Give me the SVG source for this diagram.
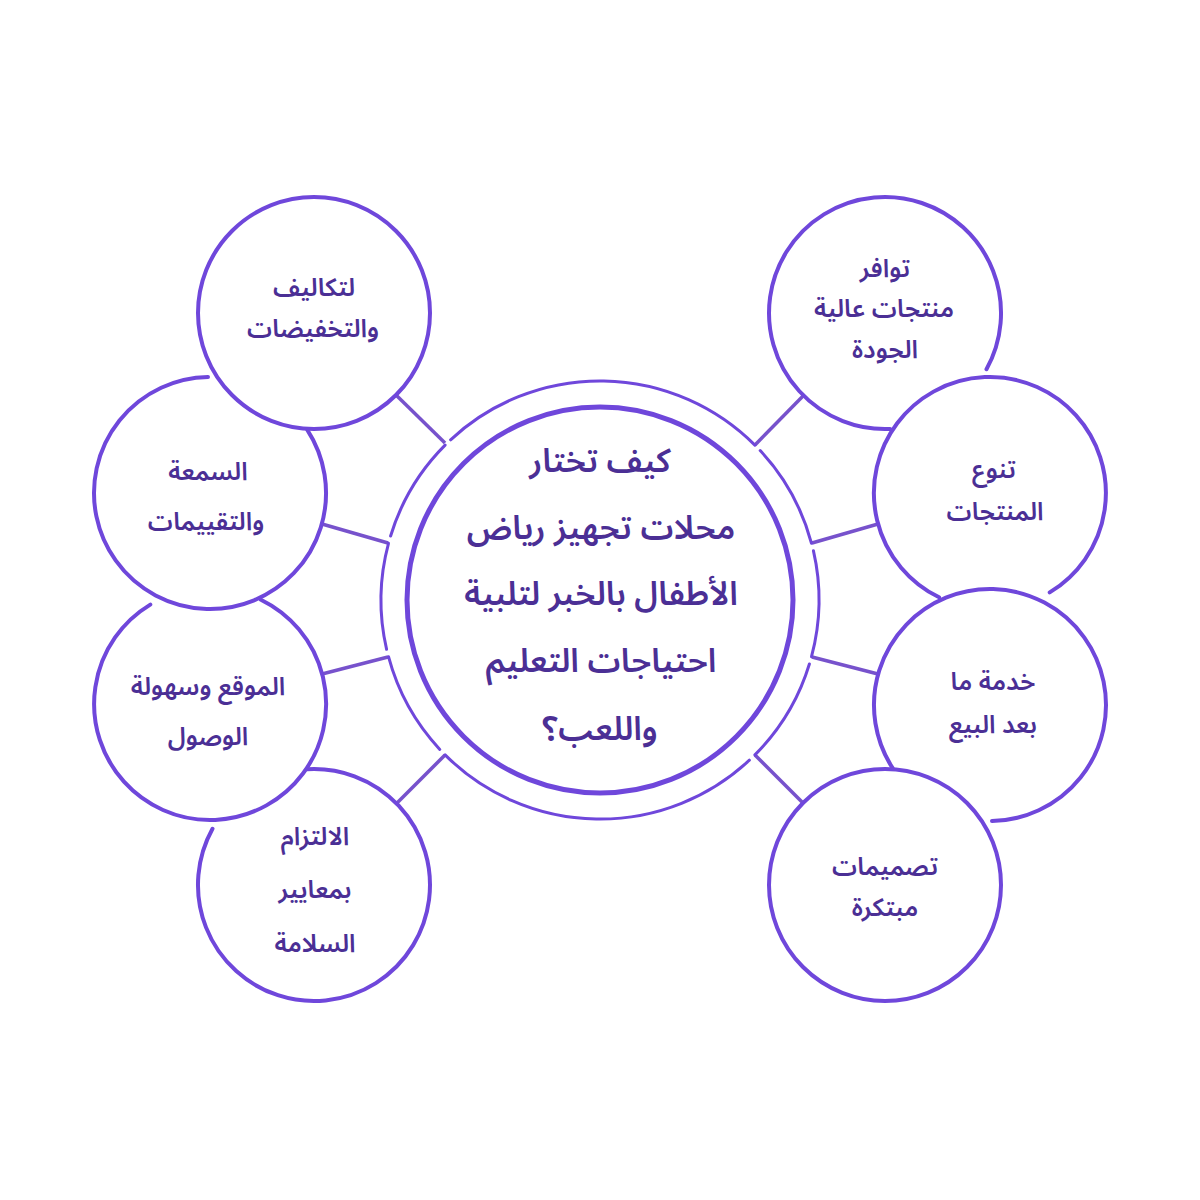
<svg xmlns="http://www.w3.org/2000/svg" width="1200" height="1200" viewBox="0 0 1200 1200">
<style>
.ring{fill:none;stroke:#6f47db;stroke-width:3;stroke-linecap:round}
.inner{fill:#fff;stroke:#6f47db;stroke-width:5}
.sat{fill:none;stroke:#6f47db;stroke-width:4;stroke-linecap:round}
.bg{fill:#fff;stroke:none}
.con{stroke:#7752cc;stroke-width:3.5;fill:none}
.t{font-family:"Noto Sans Arabic","DejaVu Sans",sans-serif;font-weight:600;fill:#4b2f95;text-anchor:middle}
.s{font-size:25px}
.c{font-size:33px}
</style>
<rect width="1200" height="1200" fill="#fff"/>
<g id="connectors">
<line class="con" x1="396" y1="395" x2="445" y2="443"/>
<line class="con" x1="322" y1="524" x2="388" y2="543"/>
<line class="con" x1="322" y1="674" x2="388" y2="657"/>
<line class="con" x1="397" y1="803" x2="445" y2="755"/>
<line class="con" x1="804" y1="395" x2="755" y2="445"/>
<line class="con" x1="878" y1="524" x2="812" y2="543"/>
<line class="con" x1="878" y1="674" x2="812" y2="657"/>
<line class="con" x1="803" y1="803" x2="755" y2="755"/>
</g>
<g id="center">
<path class="ring" d="M809.4,664 A219,219 0 0 1 754.9,754.9"/>
<path class="ring" d="M749.4,760.2 A219,219 0 0 1 445.1,754.9"/>
<path class="ring" d="M439.8,749.4 A219,219 0 0 1 388.5,656.7"/>
<path class="ring" d="M386.6,649.3 A219,219 0 0 1 388.5,543.3"/>
<path class="ring" d="M390.6,536 A219,219 0 0 1 445.1,445.1"/>
<path class="ring" d="M450.6,439.8 A219,219 0 0 1 754.9,445.1"/>
<path class="ring" d="M760.2,450.6 A219,219 0 0 1 811.5,543.3"/>
<path class="ring" d="M813.4,550.7 A219,219 0 0 1 811.5,656.7"/>
<circle class="inner" cx="600" cy="600" r="193"/>
<text class="t c" direction="rtl" x="600" y="472">كيف تختار</text>
<text class="t c" direction="rtl" x="601" y="539">محلات تجهيز رياض</text>
<text class="t c" direction="rtl" x="601" y="605">الأطفال بالخبر لتلبية</text>
<text class="t c" direction="rtl" x="601" y="672">احتياجات التعليم</text>
<text class="t c" direction="rtl" x="600" y="740">واللعب؟</text>
</g>
<g id="node-bl">
<circle class="bg" cx="314" cy="885" r="116"/>
<path class="sat" d="M306.9,769.2 A116,116 0 1 1 212.5,828.8"/>
<text class="t s" direction="rtl" x="315" y="845">الالتزام</text>
<text class="t s" direction="rtl" x="315" y="898">بمعايير</text>
<text class="t s" direction="rtl" x="315" y="952">السلامة</text>
</g>
<g id="node-l3">
<circle class="bg" cx="210" cy="704" r="116"/>
<path class="sat" d="M260.9,599.7 A116,116 0 1 1 150.3,604.6"/>
<text class="t s" direction="rtl" x="208" y="695">الموقع وسهولة</text>
<text class="t s" direction="rtl" x="208" y="745">الوصول</text>
</g>
<g id="node-l2">
<circle class="bg" cx="210" cy="493" r="116"/>
<path class="sat" d="M307.3,429.8 A116,116 0 1 1 208,377"/>
<text class="t s" direction="rtl" x="208" y="480">السمعة</text>
<text class="t s" direction="rtl" x="206" y="530">والتقييمات</text>
</g>
<g id="node-tl">
<circle class="bg" cx="314" cy="313" r="116"/>
<circle class="sat" cx="314" cy="313" r="116"/>
<text class="t s" direction="rtl" x="314" y="296">لتكاليف</text>
<text class="t s" direction="rtl" x="313" y="337">والتخفيضات</text>
</g>
<g id="node-tr">
<circle class="bg" cx="885" cy="313" r="116"/>
<path class="sat" d="M890.1,428.9 A116,116 0 1 1 986.5,369.2"/>
<text class="t s" direction="rtl" x="885" y="277">توافر</text>
<text class="t s" direction="rtl" x="884" y="317">منتجات عالية</text>
<text class="t s" direction="rtl" x="885" y="358">الجودة</text>
</g>
<g id="node-r2">
<circle class="bg" cx="990" cy="493" r="116"/>
<path class="sat" d="M939.1,597.3 A116,116 0 1 1 1049.7,592.4"/>
<text class="t s" direction="rtl" x="994" y="478">تنوع</text>
<text class="t s" direction="rtl" x="995" y="520">المنتجات</text>
</g>
<g id="node-r3">
<circle class="bg" cx="990" cy="705" r="116"/>
<path class="sat" d="M892.7,768.2 A116,116 0 1 1 992,821"/>
<text class="t s" direction="rtl" x="993" y="690">خدمة ما</text>
<text class="t s" direction="rtl" x="993" y="733">بعد البيع</text>
</g>
<g id="node-br">
<circle class="bg" cx="885" cy="885" r="116"/>
<circle class="sat" cx="885" cy="885" r="116"/>
<text class="t s" direction="rtl" x="885" y="875">تصميمات</text>
<text class="t s" direction="rtl" x="885" y="916">مبتكرة</text>
</g>
</svg>
